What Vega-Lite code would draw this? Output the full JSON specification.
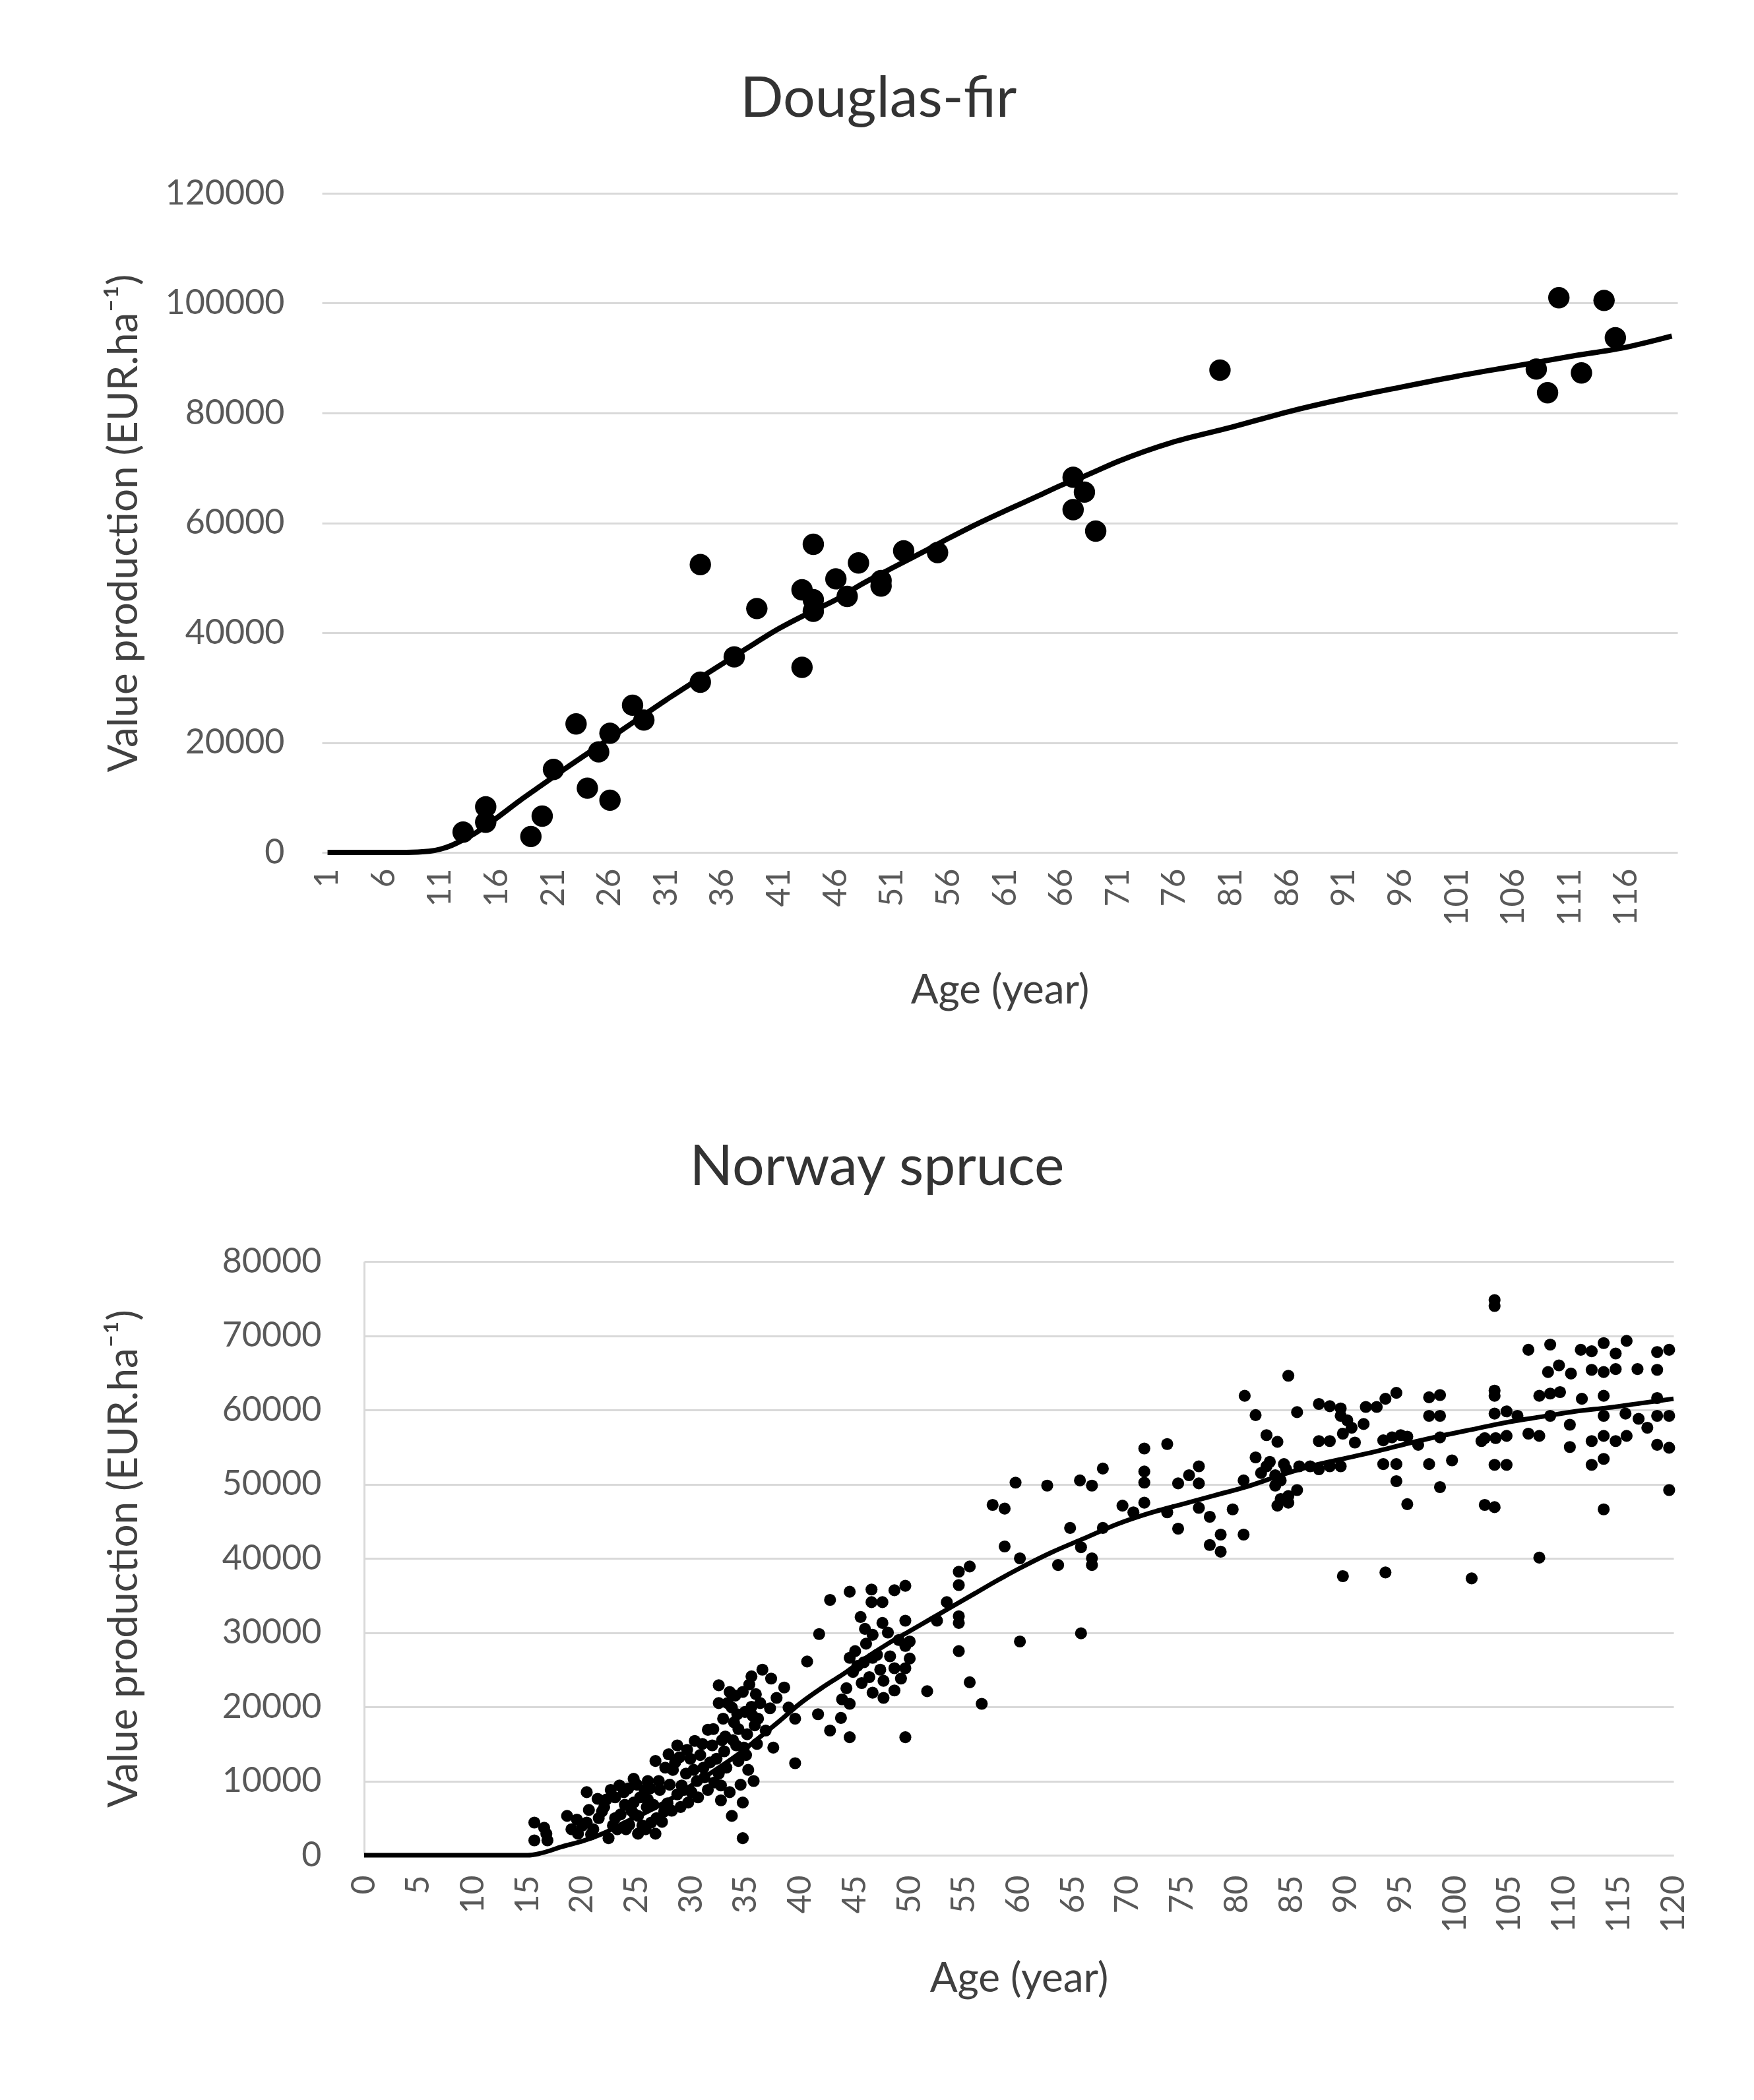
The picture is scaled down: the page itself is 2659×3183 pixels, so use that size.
{
"$schema": "https://vega.github.io/schema/vega-lite/v6.json",
"background": "white",
"padding": {"left": 150, "top": 108, "right": 60, "bottom": 20},
"config": {"view": {"stroke": null}, "font": "Lato", "axis": {"labelFont": "Lato", "titleFont": "Lato", "labelColor": "#595959", "titleColor": "#404040", "titleFontWeight": "normal", "labelFontSize": 52, "titleFontSize": 62, "labelLimit": 600, "tickSize": 0, "ticks": false, "gridColor": "#d9d9d9", "gridWidth": 3}, "title": {"font": "Lato", "fontSize": 86, "fontWeight": "normal", "color": "#333333", "anchor": "middle", "frame": "bounds", "offset": 72}},
"columns": 1,
"spacing": 194,
"datasets": {
"df_pts": [
{"age":13,"value":3700},{"age":15,"value":8300},{"age":15,"value":5500},{"age":19,"value":2900},{"age":20,"value":6600},{"age":21,"value":15100},{"age":23,"value":23400},{"age":24,"value":11700},{"age":25,"value":18300},{"age":26,"value":21700},{"age":26,"value":9500},{"age":28,"value":26800},{"age":29,"value":24100},{"age":34,"value":31000},{"age":34,"value":52400},{"age":37,"value":35600},{"age":39,"value":44400},{"age":43,"value":33700},{"age":43,"value":47800},{"age":44,"value":56100},{"age":44,"value":43900},{"age":44,"value":46000},{"age":46,"value":49800},{"age":47,"value":46600},{"age":48,"value":52700},{"age":50,"value":49500},{"age":50,"value":48500},{"age":52,"value":54900},{"age":55,"value":54600},{"age":67,"value":68300},{"age":67,"value":62400},{"age":68,"value":65600},{"age":69,"value":58500},{"age":80,"value":87800},{"age":108,"value":88000},{"age":109,"value":83700},{"age":110,"value":101000},{"age":112,"value":87300},{"age":114,"value":100500},{"age":115,"value":93700}
],
"df_curve": [
{"age":1,"value":0},{"age":8,"value":0},{"age":10,"value":200},{"age":11,"value":600},{"age":12,"value":1300},{"age":13,"value":2300},{"age":14,"value":3400},{"age":15,"value":4800},{"age":16,"value":6300},{"age":18,"value":9400},{"age":20,"value":12300},{"age":22,"value":15200},{"age":24,"value":18000},{"age":26,"value":20800},{"age":28,"value":23600},{"age":31,"value":27800},{"age":34,"value":31800},{"age":36,"value":34400},{"age":38,"value":37000},{"age":41,"value":40800},{"age":44,"value":44000},{"age":46,"value":46000},{"age":48,"value":48500},{"age":51,"value":51800},{"age":54,"value":55000},{"age":56,"value":57200},{"age":58,"value":59300},{"age":61,"value":62200},{"age":64,"value":65000},{"age":66,"value":66900},{"age":68,"value":68500},{"age":71,"value":71200},{"age":76,"value":74800},{"age":81,"value":77400},{"age":86,"value":80200},{"age":91,"value":82600},{"age":96,"value":84700},{"age":101,"value":86700},{"age":106,"value":88500},{"age":111,"value":90300},{"age":116,"value":92000},{"age":120,"value":94000}
],
"ns_pts": [
{"age":15.6,"value":4400},{"age":16.5,"value":3700},{"age":16.7,"value":2900},{"age":15.6,"value":2000},{"age":16.8,"value":2000},{"age":18.6,"value":5300},{"age":19.0,"value":3500},{"age":19.6,"value":2900},{"age":20.4,"value":8500},{"age":20.6,"value":6100},{"age":20.4,"value":4400},{"age":21.4,"value":7600},{"age":21.8,"value":5900},{"age":22.4,"value":2300},{"age":22.6,"value":8800},{"age":23.0,"value":5000},{"age":23.4,"value":9400},{"age":23.9,"value":6800},{"age":24.3,"value":4100},{"age":24.7,"value":10300},{"age":24.7,"value":7100},{"age":25.1,"value":5300},{"age":25.1,"value":2900},{"age":25.7,"value":8800},{"age":25.9,"value":6500},{"age":26.3,"value":4400},{"age":26.7,"value":2900},{"age":26.7,"value":12700},{"age":27.1,"value":8800},{"age":27.5,"value":5900},{"age":27.9,"value":13600},{"age":28.3,"value":11500},{"age":28.7,"value":14800},{"age":28.7,"value":8200},{"age":29.1,"value":9400},{"age":29.7,"value":7100},{"age":29.9,"value":13000},{"age":30.3,"value":15400},{"age":30.5,"value":10000},{"age":31.1,"value":11800},{"age":31.5,"value":16900},{"age":31.5,"value":8800},{"age":31.9,"value":14800},{"age":32.3,"value":13000},{"age":32.5,"value":22900},{"age":32.5,"value":20500},{"age":32.7,"value":9400},{"age":32.9,"value":18400},{"age":33.1,"value":16000},{"age":32.7,"value":7400},{"age":33.5,"value":22000},{"age":33.7,"value":19900},{"age":33.9,"value":17900},{"age":33.7,"value":5300},{"age":34.1,"value":14800},{"age":34.3,"value":12700},{"age":34.7,"value":22000},{"age":34.7,"value":7100},{"age":34.7,"value":2300},{"age":34.9,"value":19300},{"age":35.1,"value":16300},{"age":35.5,"value":24100},{"age":35.7,"value":10000},{"age":35.9,"value":21700},{"age":36.1,"value":18400},{"age":36.5,"value":25000},{"age":37.3,"value":23800},{"age":37.5,"value":14500},{"age":38.5,"value":22600},{"age":38.9,"value":19900},{"age":39.5,"value":18400},{"age":39.5,"value":12400},{"age":40.6,"value":26100},{"age":41.6,"value":19000},{"age":41.7,"value":29800},
{"age":22.0,"value":6500},{"age":22.8,"value":4000},{"age":23.5,"value":5500},{"age":24.0,"value":3500},{"age":24.5,"value":6000},{"age":25.5,"value":4000},{"age":26.0,"value":7500},{"age":26.8,"value":5000},{"age":27.0,"value":10000},{"age":27.8,"value":7000},{"age":28.5,"value":12500},{"age":29.0,"value":6500},{"age":29.5,"value":11000},{"age":30.0,"value":8500},{"age":30.8,"value":13500},{"age":31.2,"value":10500},{"age":32.0,"value":17000},{"age":32.5,"value":11000},{"age":33.0,"value":14000},{"age":33.3,"value":20500},{"age":33.8,"value":15500},{"age":34.0,"value":21500},{"age":34.3,"value":17000},{"age":34.5,"value":9500},{"age":35.0,"value":13500},{"age":35.3,"value":23000},{"age":35.5,"value":20000},{"age":35.8,"value":17500},{"age":36.0,"value":15000},{"age":21.0,"value":3500},{"age":20.0,"value":4000},{"age":23.0,"value":7800},{"age":25.0,"value":9500},{"age":26.0,"value":10000},{"age":37.2,"value":19800},
{"age":19.5,"value":4800},{"age":20.8,"value":2800},{"age":21.5,"value":5000},{"age":22.2,"value":7500},{"age":23.2,"value":3500},{"age":23.8,"value":8500},{"age":24.2,"value":9000},{"age":24.8,"value":5500},{"age":25.3,"value":7800},{"age":25.8,"value":3500},{"age":26.2,"value":9000},{"age":26.5,"value":6800},{"age":27.3,"value":4500},{"age":27.6,"value":11800},{"age":28.0,"value":9500},{"age":28.2,"value":6000},{"age":28.9,"value":13200},{"age":29.3,"value":8800},{"age":29.6,"value":14200},{"age":30.2,"value":11500},{"age":30.6,"value":7800},{"age":31.0,"value":15000},{"age":31.7,"value":12500},{"age":32.1,"value":9800},{"age":32.8,"value":15500},{"age":33.2,"value":11800},{"age":33.5,"value":8500},{"age":34.2,"value":19000},{"age":34.8,"value":14500},{"age":35.2,"value":11500},{"age":35.6,"value":18800},{"age":36.3,"value":20500},{"age":36.8,"value":16800},{"age":37.8,"value":21200},{"age":44.2,"value":22500},{"age":45.2,"value":25500},{"age":45.9,"value":30500},{"age":46.3,"value":24000},{"age":47.3,"value":25000},{"age":48.2,"value":26800},{"age":49.2,"value":23800},{"age":50.0,"value":26500},{"age":50.0,"value":28800},
{"age":42.7,"value":34400},{"age":42.7,"value":16800},{"age":43.7,"value":18500},{"age":43.8,"value":21000},{"age":44.5,"value":35500},{"age":44.5,"value":26600},{"age":44.5,"value":20400},{"age":44.5,"value":15900},{"age":44.8,"value":24700},{"age":45.5,"value":32100},{"age":45.6,"value":23200},{"age":46.5,"value":35800},{"age":46.5,"value":34100},{"age":46.6,"value":29700},{"age":46.6,"value":26600},{"age":46.6,"value":21900},{"age":47.5,"value":34100},{"age":47.5,"value":31300},{"age":47.6,"value":23500},{"age":47.6,"value":21200},{"age":48.6,"value":35700},{"age":48.6,"value":25200},{"age":48.6,"value":22200},{"age":49.6,"value":36300},{"age":49.6,"value":31600},{"age":49.6,"value":28200},{"age":49.6,"value":25200},{"age":49.6,"value":15900},{"age":51.6,"value":22100},{"age":52.5,"value":31600},{"age":53.4,"value":34100},{"age":54.5,"value":38200},{"age":54.5,"value":36400},{"age":54.5,"value":32200},{"age":54.5,"value":31300},{"age":54.5,"value":27500},{"age":55.5,"value":38900},{"age":55.5,"value":23300},{"age":56.6,"value":20400},{"age":57.6,"value":47200},{"age":58.7,"value":46700},{"age":58.7,"value":41600},{"age":59.7,"value":50200},{"age":60.1,"value":40000},{"age":60.1,"value":28800},{"age":45.0,"value":27500},{"age":45.8,"value":26000},{"age":46.0,"value":28500},{"age":47.0,"value":27000},{"age":48.0,"value":30000},{"age":49.0,"value":29000},
{"age":62.6,"value":49800},{"age":63.6,"value":39100},{"age":64.7,"value":44100},{"age":65.6,"value":50500},{"age":65.7,"value":41500},{"age":65.7,"value":29900},{"age":66.7,"value":49800},{"age":66.7,"value":40000},{"age":66.7,"value":39100},{"age":67.7,"value":52100},{"age":67.7,"value":44100},{"age":69.5,"value":47100},{"age":70.5,"value":46200},{"age":71.5,"value":54800},{"age":71.5,"value":51700},{"age":71.5,"value":50200},{"age":71.5,"value":47500},{"age":73.6,"value":55400},{"age":73.6,"value":46200},{"age":74.6,"value":50100},{"age":74.6,"value":44000},{"age":75.6,"value":51200},{"age":76.5,"value":52400},{"age":76.5,"value":50100},{"age":76.5,"value":46800},{"age":77.5,"value":45600},{"age":77.5,"value":41800},{"age":78.5,"value":43200},{"age":78.5,"value":40900},{"age":79.6,"value":46600},{"age":80.6,"value":43200},{"age":80.6,"value":50500},{"age":80.7,"value":61900},{"age":81.7,"value":59300},{"age":81.7,"value":53600},{"age":82.7,"value":56600},{"age":82.7,"value":52400},{"age":83.7,"value":55700},{"age":83.5,"value":49800},{"age":83.7,"value":47100},{"age":84.3,"value":52700},{"age":83.5,"value":51200},{"age":82.2,"value":51500},{"age":83.0,"value":53000},{"age":84.0,"value":50500},{"age":84.0,"value":48000},
{"age":84.7,"value":64600},{"age":85.5,"value":59700},{"age":84.5,"value":52000},{"age":85.7,"value":52400},{"age":86.7,"value":52400},{"age":87.5,"value":52000},{"age":88.5,"value":52400},{"age":89.5,"value":52400},{"age":84.7,"value":48400},{"age":84.7,"value":47500},{"age":85.5,"value":49200},{"age":87.5,"value":60800},{"age":88.5,"value":60500},{"age":89.5,"value":60200},{"age":87.5,"value":55800},{"age":88.5,"value":55800},{"age":89.5,"value":59200},{"age":89.7,"value":56800},{"age":90.1,"value":58600},{"age":90.5,"value":57600},{"age":90.8,"value":55600},{"age":89.7,"value":37600},{"age":91.6,"value":58100},{"age":91.8,"value":60400},{"age":92.8,"value":60400},{"age":93.6,"value":61500},{"age":94.6,"value":62300},{"age":93.6,"value":38100},{"age":93.4,"value":55900},{"age":94.2,"value":56300},{"age":95.0,"value":56600},{"age":95.6,"value":56400},{"age":96.6,"value":55300},{"age":93.4,"value":52700},{"age":94.6,"value":52700},{"age":94.6,"value":50400},{"age":95.6,"value":47300},{"age":97.6,"value":61700},{"age":98.6,"value":62000},{"age":97.6,"value":59200},{"age":98.6,"value":59200},{"age":98.6,"value":56300},{"age":97.6,"value":52700},{"age":98.6,"value":49600},{"age":99.7,"value":53200},{"age":101.5,"value":37300},{"age":102.4,"value":55800},
{"age":103.6,"value":74800},{"age":103.6,"value":74000},{"age":106.7,"value":68100},{"age":108.7,"value":68800},{"age":111.5,"value":68100},{"age":112.5,"value":67900},{"age":113.6,"value":69000},{"age":114.7,"value":67600},{"age":115.7,"value":69300},{"age":118.5,"value":67800},{"age":119.6,"value":68100},{"age":108.5,"value":65100},{"age":109.5,"value":66000},{"age":110.6,"value":64900},{"age":112.5,"value":65400},{"age":113.6,"value":65100},{"age":114.7,"value":65500},{"age":116.7,"value":65500},{"age":118.5,"value":65400},{"age":103.6,"value":62600},{"age":103.6,"value":61900},{"age":107.7,"value":61900},{"age":108.7,"value":62200},{"age":109.6,"value":62400},{"age":111.6,"value":61500},{"age":113.6,"value":61900},{"age":118.5,"value":61600},{"age":103.6,"value":59500},{"age":104.7,"value":59800},{"age":105.7,"value":59200},{"age":108.7,"value":59200},{"age":110.5,"value":58000},{"age":113.6,"value":59200},{"age":115.6,"value":59500},{"age":116.8,"value":58800},{"age":117.6,"value":57600},{"age":119.6,"value":59200},{"age":118.5,"value":59200},{"age":102.7,"value":56200},{"age":103.7,"value":56200},{"age":104.7,"value":56500},{"age":106.7,"value":56800},{"age":107.7,"value":56500},{"age":110.5,"value":55000},{"age":112.5,"value":55800},{"age":113.6,"value":56500},{"age":114.7,"value":55800},{"age":115.7,"value":56500},{"age":118.5,"value":55300},{"age":119.6,"value":54900},{"age":103.6,"value":52600},{"age":104.7,"value":52600},{"age":112.5,"value":52600},{"age":113.6,"value":53400},{"age":102.7,"value":47200},{"age":103.6,"value":46900},{"age":113.6,"value":46600},{"age":119.6,"value":49200},{"age":107.7,"value":40100}
],
"ns_curve": [
{"age":0,"value":0},{"age":15,"value":0},{"age":16,"value":200},{"age":17,"value":600},{"age":18,"value":1100},{"age":20,"value":1900},{"age":22,"value":3000},{"age":24,"value":4500},{"age":26,"value":5900},{"age":28,"value":7500},{"age":30,"value":9400},{"age":32,"value":11300},{"age":34,"value":13300},{"age":36,"value":15600},{"age":38,"value":18000},{"age":40,"value":20500},{"age":42,"value":22600},{"age":44,"value":24500},{"age":46,"value":26600},{"age":48,"value":28500},{"age":50,"value":30200},{"age":52,"value":31900},{"age":54,"value":33600},{"age":56,"value":35300},{"age":58,"value":37000},{"age":60,"value":38600},{"age":63,"value":40800},{"age":66,"value":42700},{"age":69,"value":44600},{"age":72,"value":46100},{"age":75,"value":47300},{"age":78,"value":48500},{"age":81,"value":49700},{"age":84,"value":51200},{"age":87,"value":52500},{"age":90,"value":53500},{"age":93,"value":54500},{"age":96,"value":55600},{"age":99,"value":56600},{"age":102,"value":57500},{"age":105,"value":58400},{"age":108,"value":59100},{"age":111,"value":59800},{"age":114,"value":60300},{"age":117,"value":60900},{"age":120,"value":61500}
]
},
"concat": [
{"spacing": 0, "hconcat": [
{"width": 1, "height": 1, "data": {"values": [{}]}, "mark": {"type": "point", "opacity": 0}, "encoding": {}},
{
"width": 2055, "height": 999,
"title": {"text": "Douglas-fir", "dx": -22},
"layer": [
{"data": {"name": "df_pts"}, "mark": {"type": "circle", "size": 1050, "color": "black", "opacity": 1},
 "encoding": {
  "x": {"field": "age", "type": "quantitative", "scale": {"domain": [0.5, 120.5], "nice": false, "zero": false},
   "axis": {"title": "Age (year)", "values": [1,6,11,16,21,26,31,36,41,46,51,56,61,66,71,76,81,86,91,96,101,106,111,116], "labelAngle": -90, "grid": false, "domain": false, "labelPadding": 24, "titlePadding": 68, "labelFontSize": 50}},
  "y": {"field": "value", "type": "quantitative", "scale": {"domain": [0, 120000], "nice": false},
   "axis": {"title": "Value production (EUR.ha⁻¹)", "values": [0,20000,40000,60000,80000,100000,120000], "format": "d", "grid": true, "domain": false, "labelPadding": 57, "titlePadding": 68}}
 }},
{"data": {"name": "df_curve"}, "mark": {"type": "line", "color": "black", "strokeWidth": 8, "interpolate": "monotone"},
 "encoding": {"x": {"field": "age", "type": "quantitative"}, "y": {"field": "value", "type": "quantitative"}}}
]
}
]},
{"spacing": 0, "hconcat": [
{"width": 1, "height": 1, "data": {"values": [{}]}, "mark": {"type": "point", "opacity": 0}, "encoding": {}},
{
"width": 1985, "height": 900,
"title": {"text": "Norway spruce", "dx": -30},
"layer": [
{"data": {"name": "ns_pts"}, "mark": {"type": "circle", "size": 330, "color": "black", "opacity": 1},
 "encoding": {
  "x": {"field": "age", "type": "quantitative", "scale": {"domain": [0, 120], "nice": false, "zero": false},
   "axis": {"title": "Age (year)", "values": [0,5,10,15,20,25,30,35,40,45,50,55,60,65,70,75,80,85,90,95,100,105,110,115,120], "labelAngle": -90, "grid": false, "domain": true, "domainColor": "#d9d9d9", "domainWidth": 3, "labelPadding": 30, "titlePadding": 40, "labelFontSize": 50}},
  "y": {"field": "value", "type": "quantitative", "scale": {"domain": [0, 80000], "nice": false},
   "axis": {"title": "Value production (EUR.ha⁻¹)", "values": [0,10000,20000,30000,40000,50000,60000,70000,80000], "format": "d", "grid": true, "domain": true, "domainColor": "#d9d9d9", "domainWidth": 3, "labelPadding": 65, "titlePadding": 132}}
 }},
{"data": {"name": "ns_curve"}, "mark": {"type": "line", "color": "black", "strokeWidth": 7, "interpolate": "monotone"},
 "encoding": {"x": {"field": "age", "type": "quantitative"}, "y": {"field": "value", "type": "quantitative"}}}
]
}
]}
]
}
